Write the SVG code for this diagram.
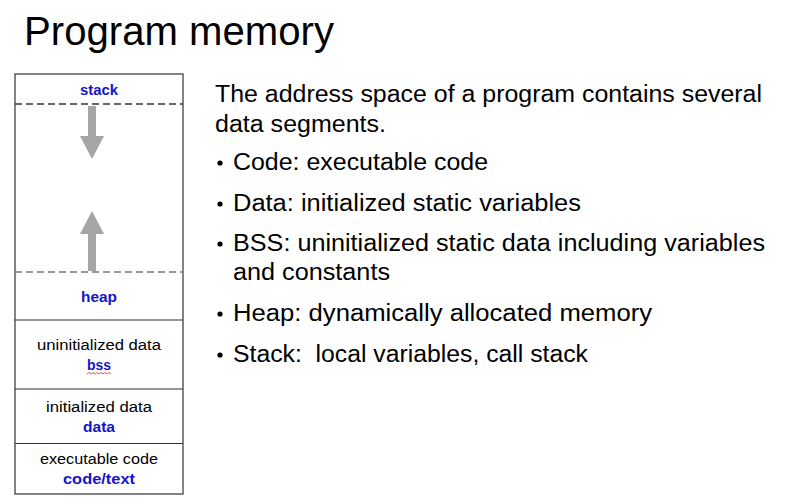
<svg xmlns="http://www.w3.org/2000/svg" width="789" height="502" viewBox="0 0 789 502">
  <style>
    .t { font-family: "Liberation Sans", Arial, sans-serif; fill: #000; }
    .lbl { font-family: "Liberation Sans", Arial, sans-serif; font-size: 14px; fill: #000; text-anchor: middle; }
    .key { font-family: "Liberation Sans", Arial, sans-serif; font-size: 14px; font-weight: bold; fill: #1414C8; text-anchor: middle; }
    .body { font-family: "Liberation Sans", Arial, sans-serif; font-size: 23px; fill: #000; }
    .seg { fill: #fff; stroke: #333; stroke-width: 1.2; }
    .sep { stroke: #333; stroke-width: 1.2; }
    .dash { stroke-width: 1.3; stroke-dasharray: 7 4; fill: none; }
    .arrow { fill: #A6A6A6; }
  </style>
  <rect width="789" height="502" fill="#fff"/>
  <text class="t" x="24" y="45" font-size="40" textLength="310" lengthAdjust="spacingAndGlyphs">Program memory</text>

  <g id="memory-box">
    <rect class="seg" x="15" y="74" width="168" height="420"/>
  </g>
  <g id="stack">
    <text class="key" x="99" y="95" textLength="38" lengthAdjust="spacingAndGlyphs">stack</text>
    <line class="dash" x1="15" y1="104" x2="183" y2="104" stroke="#333"/>
  </g>
  <g id="heap">
    <line class="dash" x1="15" y1="272" x2="183" y2="272" stroke="#777"/>
    <text class="key" x="99" y="302" textLength="36" lengthAdjust="spacingAndGlyphs">heap</text>
    <line class="sep" x1="15" y1="320" x2="183" y2="320"/>
  </g>
  <g id="bss">
    <text class="lbl" x="99" y="350" textLength="124" lengthAdjust="spacingAndGlyphs">uninitialized data</text>
    <text class="key" x="99" y="370" textLength="24" lengthAdjust="spacingAndGlyphs">bss</text>
    <path d="M87 374 l2 -1.5 l2 1.5 l2 -1.5 l2 1.5 l2 -1.5 l2 1.5 l2 -1.5 l2 1.5 l2 -1.5 l2 1.5 l2 -1.5 l2 1.5" fill="none" stroke="#E03030" stroke-width="0.8"/>
    <line class="sep" x1="15" y1="389" x2="183" y2="389"/>
  </g>
  <g id="data">
    <text class="lbl" x="99" y="412" textLength="106" lengthAdjust="spacingAndGlyphs">initialized data</text>
    <text class="key" x="99" y="432" textLength="32" lengthAdjust="spacingAndGlyphs">data</text>
    <line class="sep" x1="15" y1="443.5" x2="183" y2="443.5"/>
  </g>
  <g id="code">
    <text class="lbl" x="99" y="464" textLength="118" lengthAdjust="spacingAndGlyphs">executable code</text>
    <text class="key" x="99" y="484" textLength="72" lengthAdjust="spacingAndGlyphs">code/text</text>
  </g>

  <g id="connectors">
    <path class="arrow" d="M88 106 H96 V136 H104 L92 159 L80 136 H88 Z"/>
    <path class="arrow" d="M92 211 L104 234 H96 V271 H88 V234 H80 Z"/>
  </g>

  <g id="description">
    <text class="body" x="215" y="102" textLength="547" lengthAdjust="spacingAndGlyphs">The address space of a program contains several</text>
    <text class="body" x="215" y="132" textLength="171" lengthAdjust="spacingAndGlyphs">data segments.</text>
    <g id="bullets">
      <circle cx="220" cy="163" r="2.6" fill="#000"/>
      <text class="body" x="233" y="170" textLength="255" lengthAdjust="spacingAndGlyphs">Code: executable code</text>
      <circle cx="220" cy="204" r="2.6" fill="#000"/>
      <text class="body" x="233" y="211" textLength="348" lengthAdjust="spacingAndGlyphs">Data: initialized static variables</text>
      <circle cx="220" cy="244" r="2.6" fill="#000"/>
      <text class="body" x="233" y="251" textLength="532" lengthAdjust="spacingAndGlyphs">BSS: uninitialized static data including variables</text>
      <text class="body" x="233" y="280" textLength="157" lengthAdjust="spacingAndGlyphs">and constants</text>
      <circle cx="220" cy="314" r="2.6" fill="#000"/>
      <text class="body" x="233" y="321" textLength="419" lengthAdjust="spacingAndGlyphs">Heap: dynamically allocated memory</text>
      <circle cx="220" cy="355" r="2.6" fill="#000"/>
      <text class="body" x="233" y="362" textLength="355" lengthAdjust="spacingAndGlyphs" xml:space="preserve">Stack:  local variables, call stack</text>
    </g>
  </g>
</svg>
